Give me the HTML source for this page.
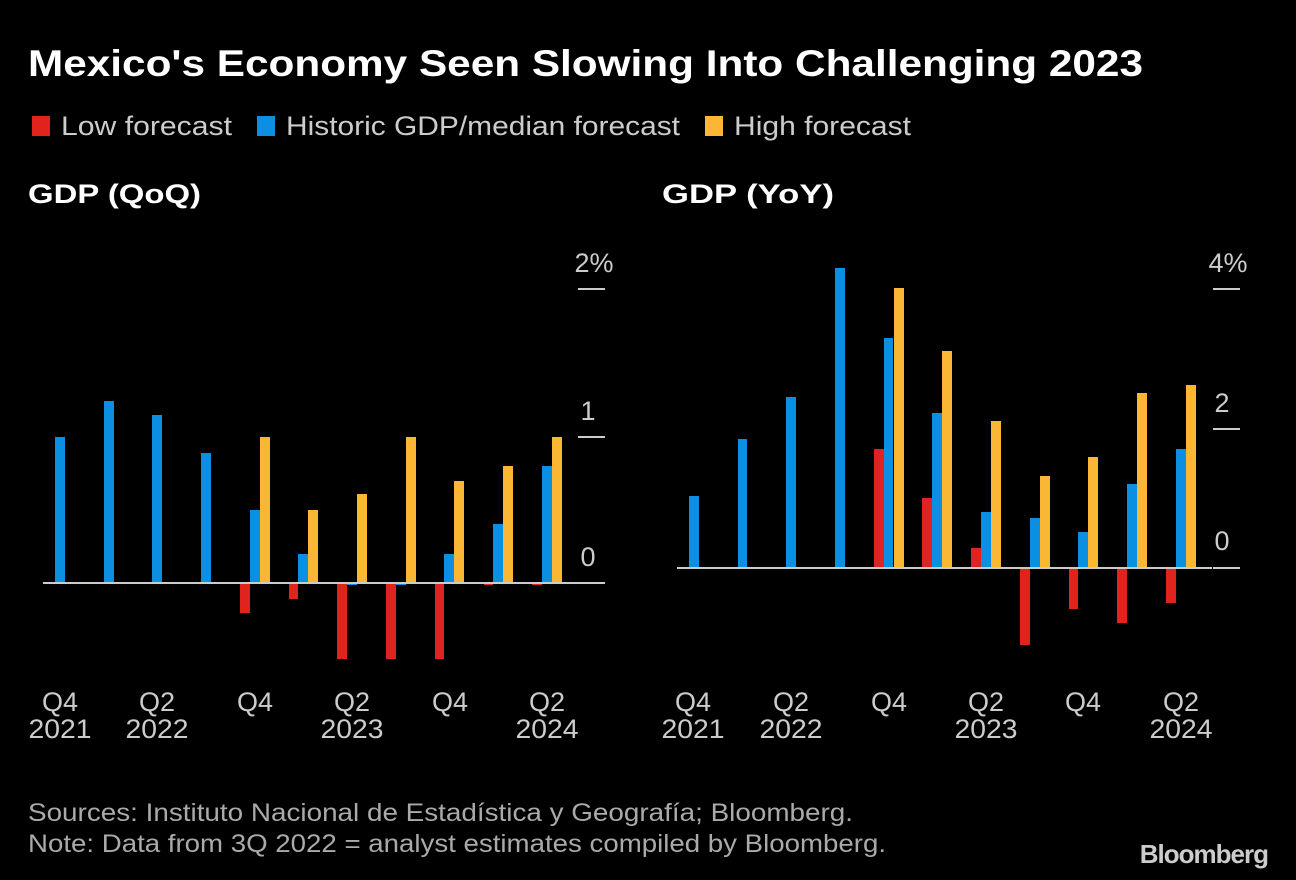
<!DOCTYPE html>
<html><head><meta charset="utf-8"><style>
html,body{margin:0;padding:0;background:#000;}
svg{display:block;font-family:"Liberation Sans",sans-serif;}
</style></head><body>
<svg width="1296" height="880" viewBox="0 0 1296 880" xmlns="http://www.w3.org/2000/svg">
<rect width="1296" height="880" fill="#000"/>
<text x="28" y="76" fill="#fff" font-size="37" font-weight="bold" textLength="1115" lengthAdjust="spacingAndGlyphs">Mexico's Economy Seen Slowing Into Challenging 2023</text>
<g font-size="27" fill="#ccc">
<rect x="32" y="116" width="18" height="20" fill="#e0231c"/><text x="61" y="135" textLength="171" lengthAdjust="spacingAndGlyphs">Low forecast</text>
<rect x="257" y="116" width="18" height="20" fill="#0a8fe3"/><text x="286" y="135" textLength="394" lengthAdjust="spacingAndGlyphs">Historic GDP/median forecast</text>
<rect x="705" y="116" width="18" height="20" fill="#fbb733"/><text x="734" y="135" textLength="177" lengthAdjust="spacingAndGlyphs">High forecast</text>
</g>
<text x="28" y="203" fill="#fff" font-size="27" font-weight="bold" textLength="173" lengthAdjust="spacingAndGlyphs">GDP (QoQ)</text>
<text x="662" y="203" fill="#fff" font-size="27" font-weight="bold" textLength="172" lengthAdjust="spacingAndGlyphs">GDP (YoY)</text>

<!-- Left chart -->
<g>
<g fill="#0a8fe3">
<rect x="55" y="437" width="10" height="146"/>
<rect x="104" y="401" width="10" height="182"/>
<rect x="152" y="415" width="10" height="168"/>
<rect x="201" y="453" width="10" height="130"/>
<rect x="250" y="510" width="10" height="73"/>
<rect x="298" y="554" width="10" height="29"/>
<rect x="347" y="583" width="10" height="2"/>
<rect x="396" y="583" width="10" height="2"/>
<rect x="444" y="554" width="10" height="29"/>
<rect x="493" y="524" width="10" height="59"/>
<rect x="542" y="466" width="10" height="117"/>
</g>
<g fill="#e0231c">
<rect x="240" y="583" width="10" height="30"/>
<rect x="289" y="583" width="9" height="16"/>
<rect x="337" y="583" width="10" height="76"/>
<rect x="386" y="583" width="10" height="76"/>
<rect x="435" y="583" width="9" height="76"/>
<rect x="484" y="583" width="9" height="2"/>
<rect x="532" y="583" width="10" height="2"/>
</g>
<g fill="#fbb733">
<rect x="260" y="437" width="10" height="146"/>
<rect x="308" y="510" width="10" height="73"/>
<rect x="357" y="494" width="10" height="89"/>
<rect x="406" y="437" width="10" height="146"/>
<rect x="454" y="481" width="10" height="102"/>
<rect x="503" y="466" width="10" height="117"/>
<rect x="552" y="437" width="10" height="146"/>
</g>
<line x1="43" y1="583" x2="578" y2="583" stroke="#ccc" stroke-width="2"/>
<g stroke="#ccc" stroke-width="2"><line x1="578" y1="289" x2="605" y2="289"/><line x1="578" y1="437" x2="605" y2="437"/><line x1="578" y1="583" x2="605" y2="583"/></g>
<g fill="#ccc" font-size="27" text-anchor="middle">
<text x="594" y="272">2%</text><text x="588" y="420">1</text><text x="588" y="566">0</text>
<text x="60" y="711">Q4</text><text x="60" y="738" textLength="63" lengthAdjust="spacingAndGlyphs">2021</text>
<text x="157" y="711">Q2</text><text x="157" y="738" textLength="63" lengthAdjust="spacingAndGlyphs">2022</text>
<text x="255" y="711">Q4</text>
<text x="352" y="711">Q2</text><text x="352" y="738" textLength="63" lengthAdjust="spacingAndGlyphs">2023</text>
<text x="450" y="711">Q4</text>
<text x="547" y="711">Q2</text><text x="547" y="738" textLength="63" lengthAdjust="spacingAndGlyphs">2024</text>
</g>
</g>

<!-- Right chart -->
<g>
<g fill="#0a8fe3">
<rect x="689" y="496" width="10" height="72"/>
<rect x="738" y="439" width="9" height="129"/>
<rect x="786" y="397" width="10" height="171"/>
<rect x="835" y="268" width="10" height="300"/>
<rect x="884" y="338" width="9" height="230"/>
<rect x="932" y="413" width="10" height="155"/>
<rect x="981" y="512" width="10" height="56"/>
<rect x="1030" y="518" width="10" height="50"/>
<rect x="1078" y="532" width="10" height="36"/>
<rect x="1127" y="484" width="10" height="84"/>
<rect x="1176" y="449" width="10" height="119"/>
</g>
<g fill="#e0231c">
<rect x="874" y="449" width="10" height="119"/>
<rect x="922" y="498" width="10" height="70"/>
<rect x="971" y="548" width="10" height="20"/>
<rect x="1020" y="568" width="10" height="77"/>
<rect x="1069" y="568" width="9" height="41"/>
<rect x="1117" y="568" width="10" height="55"/>
<rect x="1166" y="568" width="10" height="35"/>
</g>
<g fill="#fbb733">
<rect x="894" y="288" width="10" height="280"/>
<rect x="942" y="351" width="10" height="217"/>
<rect x="991" y="421" width="10" height="147"/>
<rect x="1040" y="476" width="10" height="92"/>
<rect x="1088" y="457" width="10" height="111"/>
<rect x="1137" y="393" width="10" height="175"/>
<rect x="1186" y="385" width="10" height="183"/>
</g>
<line x1="677" y1="568" x2="1212" y2="568" stroke="#ccc" stroke-width="2"/>
<g stroke="#ccc" stroke-width="2"><line x1="1213" y1="289" x2="1240" y2="289"/><line x1="1213" y1="429" x2="1240" y2="429"/><line x1="1213" y1="568" x2="1240" y2="568"/></g>
<g fill="#ccc" font-size="27" text-anchor="middle">
<text x="1228" y="272">4%</text><text x="1222" y="412">2</text><text x="1222" y="550">0</text>
<text x="693" y="711">Q4</text><text x="693" y="738" textLength="63" lengthAdjust="spacingAndGlyphs">2021</text>
<text x="791" y="711">Q2</text><text x="791" y="738" textLength="63" lengthAdjust="spacingAndGlyphs">2022</text>
<text x="889" y="711">Q4</text>
<text x="986" y="711">Q2</text><text x="986" y="738" textLength="63" lengthAdjust="spacingAndGlyphs">2023</text>
<text x="1083" y="711">Q4</text>
<text x="1181" y="711">Q2</text><text x="1181" y="738" textLength="63" lengthAdjust="spacingAndGlyphs">2024</text>
</g>
</g>

<g fill="#aaa" font-size="25">
<text x="28" y="821" textLength="825" lengthAdjust="spacingAndGlyphs">Sources: Instituto Nacional de Estadística y Geografía; Bloomberg.</text>
<text x="28" y="852" textLength="858" lengthAdjust="spacingAndGlyphs">Note: Data from 3Q 2022 = analyst estimates compiled by Bloomberg.</text>
</g>
<text x="1268" y="863" fill="#ccc" font-size="26" font-weight="bold" text-anchor="end" letter-spacing="-1">Bloomberg</text>
</svg>
</body></html>
